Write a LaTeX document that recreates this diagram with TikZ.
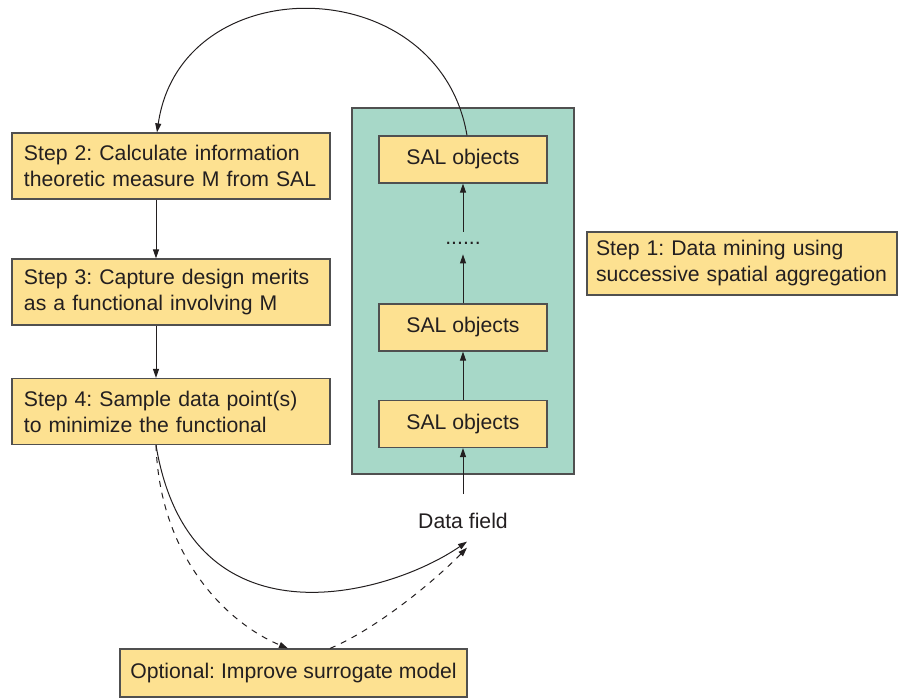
\documentclass[tikz,border=0pt]{standalone}
\usepackage{fontspec}
\setmainfont{Liberation Sans}
\usetikzlibrary{positioning, arrows.meta}

\definecolor{boxyellow}{RGB}{253,225,145}
\definecolor{panelteal}{RGB}{167,216,200}
\definecolor{edgegray}{RGB}{80,80,80}
\definecolor{inkgray}{RGB}{35,31,32}

\frenchspacing

\begin{document}
\begin{tikzpicture}[x=0.5pt, y=-0.5pt,
    every node/.style={text=inkgray, font=\fontsize{10.6}{13}\selectfont},
    stepbox/.style={draw=edgegray, line width=0.6pt, fill=boxyellow, align=left,
        text width=147pt, inner xsep=6pt, minimum height=33pt},
    salbox/.style={draw=edgegray, line width=0.6pt, fill=boxyellow,
        minimum width=84pt, minimum height=23.5pt},
    arr/.style={-{Triangle[length=4.5pt,width=3pt]}, line width=0.5pt, draw=inkgray}]

    \useasboundingbox (0,0) rectangle (900,697);

    \node[draw=edgegray, line width=0.6pt, fill=panelteal,
        minimum width=111pt, minimum height=183pt] (panel) at (463,291) {};

    \node[stepbox] (step2) at (171,166) {Step 2: Calculate information\\theoretic measure M from SAL};
    \node[stepbox] (step3) at (171,292) {Step 3: Capture design merits\\as a functional involving M};
    \node[stepbox] (step4) at (171,411.5) {Step 4: Sample data point(s)\\to minimize the functional};
    \node[stepbox, text width=146pt, inner xsep=4.5pt, minimum height=31.5pt] (step1) at (742,263.5)
        {Step 1: Data mining using\\successive spatial aggregation};

    \node[salbox] (sal1) at (463,424) {SAL objects};
    \node[salbox] (sal2) at (463,327.5) {SAL objects};
    \node[salbox] (sal3) at (463,159.5) {SAL objects};
    \node[inner sep=0pt, minimum height=11pt] (dots) at (463,243) {......};

    \node[anchor=base, inner sep=3pt] (data) at (463,528) {Data field};

    \node[draw=edgegray, line width=0.6pt, fill=boxyellow,
        minimum width=173.5pt, minimum height=24pt] (opt) at (293.5,673) {Optional: Improve surrogate model};


    \draw[arr] ([xshift=-7.5pt]step2.south) -- ([xshift=-7.5pt]step3.north);
    \draw[arr] ([xshift=-7.5pt]step3.south) -- ([xshift=-7.5pt]step4.north);

    \draw[arr, shorten <=6pt] (data.north) -- (sal1.south);
    \draw[arr] (sal1.north) -- (sal2.south);
    \draw[arr] (sal2.north) -- (dots.south);
    \draw[arr] (dots.north) -- (sal3.south);

    \draw[arr] ([xshift=2pt]sal3.north) .. controls +(-28,-166) and +(24,-166) .. ([xshift=-7pt]step2.north);
    \draw[arr] ([xshift=-7.5pt]step4.south) .. controls +(34,205) and +(-80,55) .. ([xshift=2pt,yshift=-3.5pt]data.south);
    \draw[arr, dashed] ([xshift=-7.5pt]step4.south) .. controls +(4,115) and +(-58,-24) .. ([xshift=-2.75pt]opt.north);
    \draw[arr, dashed] ([xshift=18.25pt]opt.north) .. controls +(50,-21) and +(-27,28) .. ([xshift=2pt,yshift=-6.5pt]data.south);
\end{tikzpicture}
\end{document}
